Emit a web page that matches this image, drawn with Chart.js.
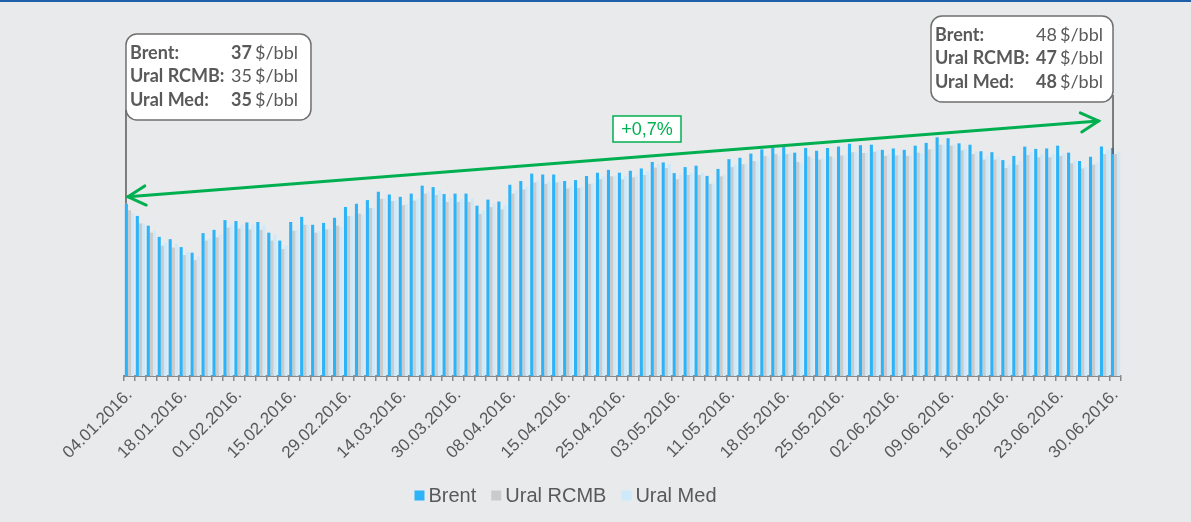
<!DOCTYPE html>
<html>
<head>
<meta charset="utf-8">
<script src="https://cdn.jsdelivr.net/npm/chart.js@4.4.0/dist/chart.umd.min.js"></script>
<style>
  html, body { margin: 0; padding: 0; background: #e9eaec; }
  #wrap { width: 1191px; height: 522px; }
  canvas { display: block; }
</style>
</head>
<body>
<div id="wrap"><canvas id="oilChart" width="1191" height="522"></canvas></div>
<script>
// shown dates, one every 5th bar
const tickDates = ['04.01.2016.', '18.01.2016.', '01.02.2016.', '15.02.2016.', '29.02.2016.',
  '14.03.2016.', '30.03.2016.', '08.04.2016.', '15.04.2016.', '25.04.2016.', '03.05.2016.',
  '11.05.2016.', '18.05.2016.', '25.05.2016.', '02.06.2016.', '09.06.2016.', '16.06.2016.',
  '23.06.2016.', '30.06.2016.'];

const brent = [37.0, 34.4, 32.3, 29.9, 29.4, 27.7, 26.5, 30.7, 31.4, 33.5, 33.3, 33.0, 33.1, 30.8, 29.1, 33.1, 34.2, 32.5,
  32.9, 34.0, 36.3, 37.0, 37.8, 39.6, 39.0, 38.5, 39.2, 40.9, 40.6, 39.1, 39.2, 39.2, 36.6, 37.9, 37.5, 41.1,
  41.9, 43.5, 43.3, 43.3, 41.9, 42.1, 43.0, 43.7,
  44.3, 43.7, 44.1, 44.6, 46.0, 45.9, 43.6, 44.9, 45.2, 43.0, 44.5, 46.6, 46.9, 47.8, 48.7, 49.0, 49.6, 48.0,
  49.0, 48.4, 49.0, 49.3, 49.9, 49.6, 49.7, 48.6, 48.9, 48.6, 49.5,
  50.1, 51.3, 51.1, 50.0, 49.7, 48.3, 48.1, 46.4, 47.3, 49.3, 48.8, 48.9, 49.5, 48.0, 46.2, 47.1, 49.3, 49.0];

const uralRcmb = [35.6, 32.8, 30.8, 28.0, 27.6, 26.0, 24.9, 29.1, 29.8, 31.9, 31.7, 31.5, 31.4, 29.1, 27.3, 31.2, 32.5, 30.8,
  31.5, 32.3, 34.4, 34.9, 36.1, 38.1, 37.6, 36.7, 37.7, 39.2, 38.9, 37.4, 37.4, 37.4, 34.8, 36.3, 35.8, 39.2,
  40.1, 41.6, 41.3, 41.6, 40.3, 40.4, 41.3, 42.3,
  42.9, 42.3, 42.7, 43.2, 44.8, 44.7, 42.3, 43.2, 43.2, 41.3, 42.9, 44.9, 45.5, 46.2, 47.3, 47.7, 47.7, 46.0,
  47.2, 46.5, 47.2, 47.4, 48.1, 47.9, 48.2, 47.3, 47.4, 47.3, 48.0,
  48.7, 49.7, 49.5, 48.5, 47.7, 46.5, 46.5, 44.7, 45.4, 47.5, 47.0, 47.0, 47.3, 45.7, 44.6, 45.4, 47.7, 47.7];

const uralMed = [35.0, 32.8, 31.2, 28.7, 28.4, 26.7, 25.7, 29.5, 30.3, 32.5, 32.5, 32.5, 32.4, 30.3, 28.0, 31.4, 32.5, 31.1,
  31.6, 32.0, 34.4, 34.7, 36.1, 38.1, 37.7, 36.9, 38.0, 39.6, 39.9, 38.3, 38.0, 38.2, 35.5, 37.0, 36.7, 39.9,
  40.6, 42.0, 41.8, 41.8, 40.7, 40.6, 41.4, 42.9,
  43.0, 43.0, 43.2, 43.9, 45.5, 45.5, 43.2, 43.6, 43.6, 41.4, 43.2, 45.4, 45.5, 46.2, 47.2, 47.2, 47.9, 45.7,
  46.8, 46.8, 46.8, 47.4, 48.1, 47.9, 48.5, 47.7, 47.5, 47.4, 47.8,
  48.8, 49.7, 49.7, 48.8, 48.2, 47.2, 47.1, 45.4, 46.2, 48.1, 47.7, 47.7, 47.8, 46.3, 44.9, 45.8, 48.6, 48.1];

const seriesNames = ['Brent', 'Ural RCMB', 'Ural Med'];
const seriesColors = ['#2db4f8', '#cbcbcb', '#cde9fa'];

// callout texts
const rowLabels = ['Brent:', 'Ural RCMB:', 'Ural Med:'];
const startValues = ['37', '35', '35'];
const startBold = [true, false, true];
const endValues = ['48', '47', '48'];
const endBold = [false, true, true];
const changeLabel = '+0,7%';

const categories = brent.map((v, i) => i % 5 === 0 ? tickDates[i / 5] : '');

const textGrey = '#595959';
const green = '#00b050';

function roundRect(ctx, x, y, w, h, r) {
  ctx.beginPath();
  ctx.moveTo(x + r, y);
  ctx.lineTo(x + w - r, y);
  ctx.arcTo(x + w, y, x + w, y + r, r);
  ctx.lineTo(x + w, y + h - r);
  ctx.arcTo(x + w, y + h, x + w - r, y + h, r);
  ctx.lineTo(x + r, y + h);
  ctx.arcTo(x, y + h, x, y + h - r, r);
  ctx.lineTo(x, y + r);
  ctx.arcTo(x, y, x + r, y, r);
  ctx.closePath();
}

function drawCallout(ctx, box, values, bold) {
  ctx.save();
  roundRect(ctx, box.x, box.y, box.w, box.h, 11);
  ctx.fillStyle = '#ffffff';
  ctx.fill();
  ctx.strokeStyle = '#6f6f6f';
  ctx.lineWidth = 1.5;
  ctx.stroke();
  ctx.fillStyle = textGrey;
  ctx.textBaseline = 'middle';
  rowLabels.forEach((lab, i) => {
    const y = box.y + 19 + i * 23.5;
    ctx.font = 'bold 18px Lato';
    ctx.textAlign = 'left';
    ctx.fillText(lab, box.x + 4, y);
    ctx.font = (bold[i] ? 'bold ' : '') + '18px Lato';
    ctx.textAlign = 'right';
    ctx.fillText(values[i], box.valueRight, y);
    ctx.font = '18px Lato';
    ctx.textAlign = 'left';
    ctx.fillText('$/bbl', box.valueRight + 3, y);
  });
  ctx.restore();
}

function arrowHead(ctx, tipX, tipY, ang) {
  const len = 20, spread = 0.5;
  ctx.beginPath();
  ctx.moveTo(tipX + len * Math.cos(ang - spread), tipY + len * Math.sin(ang - spread));
  ctx.lineTo(tipX, tipY);
  ctx.lineTo(tipX + len * Math.cos(ang + spread), tipY + len * Math.sin(ang + spread));
  ctx.stroke();
}

const decorPlugin = {
  id: 'decor',
  beforeDraw(chart) {
    const ctx = chart.ctx;
    ctx.save();
    ctx.fillStyle = '#e9eaec';
    ctx.fillRect(0, 0, chart.width, chart.height);
    ctx.restore();
  },
  afterDraw(chart) {
    const ctx = chart.ctx;
    const xs = chart.scales.x, ys = chart.scales.y;
    const last = brent.length - 1;

    // top rule
    ctx.save();
    ctx.fillStyle = '#1f5faa';
    ctx.fillRect(0, 0, chart.width, 2);

    // leader lines
    const xL = xs.getPixelForValue(0) - 3.5;
    const xR = xs.getPixelForValue(last) - 2.5;
    ctx.strokeStyle = '#595959';
    ctx.lineWidth = 1.5;
    ctx.beginPath();
    ctx.moveTo(xL, 110);
    ctx.lineTo(xL, ys.getPixelForValue(brent[0]));
    ctx.moveTo(xR, 95);
    ctx.lineTo(xR, ys.getPixelForValue(uralRcmb[last]));
    ctx.stroke();

    // green double arrow
    const ax1 = xL + 2, ay1 = ys.getPixelForValue(38.5);
    const ax2 = xs.getPixelForValue(last) - 17, ay2 = ys.getPixelForValue(54.8);
    ctx.strokeStyle = green;
    ctx.lineWidth = 3;
    ctx.lineCap = 'round';
    ctx.beginPath();
    ctx.moveTo(ax1, ay1);
    ctx.lineTo(ax2, ay2);
    ctx.stroke();
    const ang = Math.atan2(ay2 - ay1, ax2 - ax1);
    arrowHead(ctx, ax1, ay1, ang);
    arrowHead(ctx, ax2, ay2, ang + Math.PI);

    // change label
    ctx.fillStyle = '#ffffff';
    ctx.fillRect(613, 116, 68, 26);
    ctx.lineWidth = 1.5;
    ctx.strokeRect(613, 116, 68, 26);
    ctx.fillStyle = green;
    ctx.font = '18px "Liberation Sans"';
    ctx.textAlign = 'center';
    ctx.textBaseline = 'middle';
    ctx.fillText(changeLabel, 647, 130);
    ctx.restore();

    drawCallout(ctx, { x: xL, y: 34, w: 185, h: 86, valueRight: 252 }, startValues, startBold);
    drawCallout(ctx, { x: 931, y: 16, w: xR - 931, h: 86, valueRight: 1057 }, endValues, endBold);

    // legend
    ctx.save();
    ctx.font = '20px "Liberation Sans"';
    ctx.textBaseline = 'middle';
    ctx.textAlign = 'left';
    const widths = seriesNames.map(n => ctx.measureText(n).width);
    const total = widths.reduce((a, w) => a + 14 + w, 0) + 15 * (seriesNames.length - 1);
    let lx = 565.5 - total / 2;
    const ly = 495.5;
    chart.data.datasets.forEach((ds, i) => {
      ctx.fillStyle = ds.backgroundColor;
      ctx.fillRect(lx, ly - 5, 10, 10);
      ctx.fillStyle = textGrey;
      ctx.fillText(ds.label, lx + 14, ly + 1);
      lx += 14 + widths[i] + 15;
    });
    ctx.restore();
  }
};

new Chart(document.getElementById('oilChart'), {
  type: 'bar',
  data: {
    labels: categories,
    datasets: [
      { label: seriesNames[0], data: brent, backgroundColor: seriesColors[0] },
      { label: seriesNames[1], data: uralRcmb, backgroundColor: seriesColors[1] },
      { label: seriesNames[2], data: uralMed, backgroundColor: seriesColors[2] }
    ]
  },
  options: {
    responsive: false,
    animation: false,
    layout: { padding: { left: 124, right: 70, top: 27, bottom: 0 } },
    datasets: { bar: { categoryPercentage: 0.85, barPercentage: 1.0, borderWidth: 0 } },
    plugins: {
      legend: { display: false },
      tooltip: { enabled: false }
    },
    scales: {
      x: {
        afterFit: (axis) => { axis.height = 146; },
        border: { display: true, color: '#898989', width: 2 },
        grid: { display: true, drawOnChartArea: false, drawTicks: true, tickLength: 5, color: '#898989', lineWidth: 1.5, offset: true },
        ticks: {
          autoSkip: false,
          minRotation: 45,
          maxRotation: 45,
          padding: 4,
          color: textGrey,
          font: { family: '"Liberation Sans"', size: 17 }
        }
      },
      y: { display: false, min: 0, max: 75 }
    }
  },
  plugins: [decorPlugin]
});
</script>
</body>
</html>
